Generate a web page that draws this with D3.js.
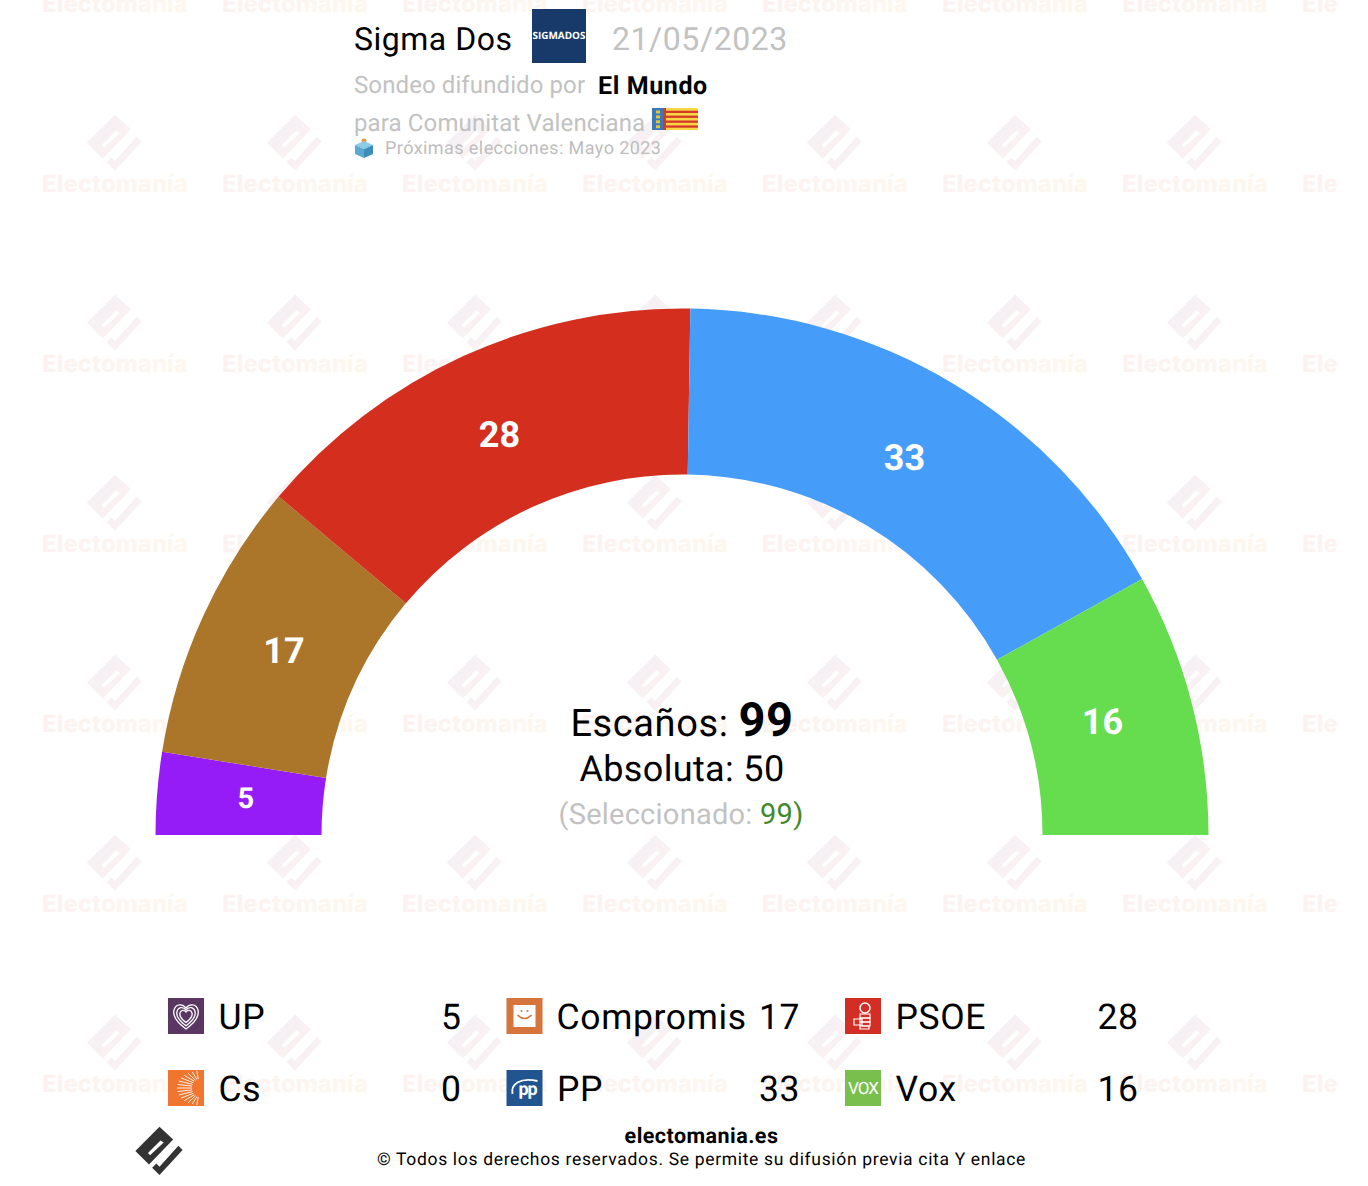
<!DOCTYPE html>
<html><head><meta charset="utf-8">
<script src="https://cdn.jsdelivr.net/npm/d3@7/dist/d3.min.js"></script>
<style>html,body{margin:0;padding:0;background:#fff}svg{display:block}text{font-family:Roboto,sans-serif;text-rendering:geometricPrecision}</style>
</head><body><div id="chart"></div>
<script>
const parties = ["UP","Compromis","PSOE","Cs","PP","Vox"];
const seats = [5,17,28,0,33,16];
const arcColors = ["#951BF7","#AB7629","#D42E1F","#F0752F","#469DF9","#66DD4E"];
const logoColors = ["#5A3763","#D5743B","#D22E26","#F0752F","#20558F","#79BF4D"];
const totalSeats = 99, majority = 50, selected = 99;
const pollster = "Sigma Dos", pollDate = "21/05/2023", media = "El Mundo";
const regionLine = "para Comunitat Valenciana";
const nextElection = "Próximas elecciones: Mayo 2023";

const W = 1368, H = 1186, cx = 682, cy = 835, rO = 526.5, rI = 360.5;
const svg = d3.select("#chart").append("svg").attr("width",W).attr("height",H).attr("viewBox",`0 0 ${W} ${H}`);
const defs = svg.append("defs");
const grad = defs.append("linearGradient").attr("id","wmg").attr("x1","0").attr("x2","1").attr("y1","0").attr("y2","0");
grad.append("stop").attr("offset","0").attr("stop-color","#fcf2f1");
grad.append("stop").attr("offset","1").attr("stop-color","#fef7ee");
const grad2 = defs.append("linearGradient").attr("id","wmi").attr("gradientUnits","objectBoundingBox").attr("x1","0").attr("x2","1").attr("y1","0").attr("y2","1");
grad2.append("stop").attr("offset","0").attr("stop-color","#f3eff8");
grad2.append("stop").attr("offset","1").attr("stop-color","#fdf2ee");
defs.append("clipPath").attr("id","wmclip").append("rect").attr("width",1338).attr("height",H);

// the Electomanía mark: a rotated box with a slot, plus a check-shaped hook
function mark(g, fill){
  g.append("path").attr("fill-rule","evenodd").attr("fill",fill)
   .attr("d","M0,-24 L13,-12 L-10,12 L-23,-1 Z M1,-11 L-11,1 L-9,3 L4,-9 Z");
  g.append("path").attr("fill",fill)
   .attr("d","M18,-6 L22,-2 L0,22 L-7,15 L-3,11 L0,14 Z");
}
const wm = svg.append("g").attr("clip-path","url(#wmclip)");
for(let row=0; row<7; row++) for(let col=0; col<8; col++){
  const g = wm.append("g").attr("transform",`translate(${115+180*col},${-36+180*row})`);
  mark(g.append("g").attr("transform","scale(1.22)"),"url(#wmi)");
  g.append("text").attr("x",0).attr("y",47.5).attr("text-anchor","middle")
   .attr("font-size",23.9).attr("font-weight",800).attr("fill","url(#wmg)").style("font-family","Inter").text("Electomanía");
}

// hemicycle
const pie = d3.pie().sort(null).value(d=>d.v).startAngle(-Math.PI/2).endAngle(Math.PI/2);
const data = parties.map((p,i)=>({p,v:seats[i],c:arcColors[i]}));
const arc = d3.arc().innerRadius(rI).outerRadius(rO);
const labelArc = d3.arc().innerRadius(436).outerRadius(436);
const plot = svg.append("g").attr("transform",`translate(${cx},${cy})`);
const slices = pie(data).filter(d=>d.data.v>0);
plot.selectAll("path").data(slices).join("path").attr("d",arc).attr("fill",d=>d.data.c);
plot.selectAll("text").data(slices).join("text")
  .attr("transform",d=>`translate(${labelArc.centroid(d)})`)
  .attr("text-anchor","middle").attr("dy","0.25em").attr("dx",-1.5).attr("fill","#fff").attr("font-weight",700)
  .attr("font-size",d=>d.data.v<10?29:36).text(d=>d.data.v);

// header
const grey="#c2c2c2";
function T(x,y,size,txt,o={}){
  const t=svg.append("text").attr("x",x).attr("y",y).attr("font-size",size).attr("fill",o.fill||"#000")
    .attr("font-weight",o.w||400).attr("text-anchor",o.a||"start");
  if(o.ls) t.attr("letter-spacing",o.ls);
  return t.text(txt);
}
T(354,50,32,pollster,{ls:0.5});
svg.append("rect").attr("x",532).attr("y",9).attr("width",54).attr("height",54).attr("fill","#183A6B");
T(559,39,10,"SIGMADOS",{fill:"#fff",w:700,a:"middle"}).style("font-family","Open Sans").attr("textLength",53).attr("lengthAdjust","spacingAndGlyphs");
T(612,50,32,pollDate,{fill:grey,ls:0.55});
T(354,93,24,"Sondeo difundido por",{fill:grey,ls:0.1});
T(598,94,25,media,{w:700,ls:0.6});
T(354,131,24,regionLine,{fill:grey,ls:0.13});
// flag
const flag=svg.append("g").attr("transform","translate(652,108)");
flag.append("rect").attr("width",46).attr("height",22).attr("fill","#F8D644");
d3.range(4).forEach(i=>flag.append("rect").attr("y",2.7+i*4.9).attr("width",46).attr("height",2.3).attr("fill","#D23A2A"));
flag.append("rect").attr("width",11).attr("height",22).attr("fill","#3A78B8");
flag.append("rect").attr("x",11).attr("width",3).attr("height",22).attr("fill","#D23A2A");
d3.range(4).forEach(i=>flag.append("rect").attr("x",4).attr("y",2.5+i*4.9).attr("width",4).attr("height",3).attr("fill","#E6C23A"));
// ballot box
const bb=svg.append("g").attr("transform","translate(355,139)");
bb.append("circle").attr("cx",9).attr("cy",2).attr("r",2.5).attr("fill","#E8963A");
bb.append("path").attr("d","M0,6 L9,2 L18,6 L9,10Z").attr("fill","#8CCBE6");
bb.append("path").attr("d","M0,6 L9,10 L9,19 L0,15Z").attr("fill","#5AA9D2");
bb.append("path").attr("d","M18,6 L9,10 L9,19 L18,15Z").attr("fill","#3D8DBA");
T(385,154,18,nextElection,{fill:"#bdbdbd",ls:0.43});

// centre text
const es=T(682,735.5,38,"Escaños: ",{a:"middle",ls:0.6}).attr("xml:space","preserve");
es.append("tspan").attr("font-weight",700).attr("font-size",47).text(totalSeats);
T(682,781,36,`Absoluta: ${majority}`,{a:"middle",ls:0.35});
const se=T(681,824,29,"(Seleccionado: ",{a:"middle",fill:grey,ls:0.25});
se.append("tspan").attr("fill","#3E8A2A").text(selected+")");

// legend
const col = d3.scalePoint().domain([0,1,2]).range([168,845]);
const row = d3.scalePoint().domain([0,1]).range([998,1070]);
parties.forEach((p,i)=>{
  const x=col(i%3), y=row(Math.floor(i/3));
  const g=svg.append("g").attr("transform",`translate(${x},${y})`);
  g.append("rect").attr("width",36).attr("height",36).attr("fill",logoColors[i]);
  drawLogo(g,p);
  T(x+(p==="Compromis"?50:50.5),y+30.5,35.5,p,{ls:0.65});
  T(x+293.5,y+30.5,35.5,seats[i],{a:"end",ls:0.5});
});
function drawLogo(g,p){
  if(p==="UP"){
    const h="M18,31 C7,23 5,16 6,12 C8,5 15,6 18,10 C21,6 28,5 30,12 C31,16 29,23 18,31Z";
    [1,.75,.5].forEach(s=>g.append("path").attr("d",h).attr("fill","none").attr("stroke","#fff").attr("stroke-width",1.3/s).attr("transform",`translate(18,18) scale(${s}) translate(-18,-18)`));
  } else if(p==="Compromis"){
    g.append("rect").attr("x",7).attr("y",7).attr("width",22).attr("height",22).attr("fill","#fff");
    g.append("path").attr("d","M11,17 Q18,24 25,17").attr("fill","none").attr("stroke","#D5743B").attr("stroke-width",1.6);
    g.append("circle").attr("cx",15).attr("cy",13).attr("r",1).attr("fill","#D5743B");
    g.append("circle").attr("cx",21).attr("cy",13).attr("r",1).attr("fill","#D5743B");
  } else if(p==="PSOE"){
    g.append("circle").attr("cx",20).attr("cy",10).attr("r",5).attr("fill","none").attr("stroke","#fff").attr("stroke-width",1.5);
    d3.range(3).forEach(i=>g.append("rect").attr("x",15).attr("y",16+i*4).attr("width",10).attr("height",4).attr("fill","none").attr("stroke","#fff").attr("stroke-width",1.1));
    g.append("path").attr("d","M9,21 H17 V28 H24 V31 H15 V27 H9Z").attr("fill","none").attr("stroke","#fff").attr("stroke-width",1.2);
  } else if(p==="Cs"){
    d3.range(-7,8).forEach(i=>{
      const a=Math.PI+i*0.21;
      g.append("line").attr("x1",31+7*Math.cos(a)).attr("y1",18+9*Math.sin(a))
       .attr("x2",31+22*Math.cos(a)).attr("y2",18+17*Math.sin(a)).attr("stroke","#fff").attr("stroke-width",0.9);
    });
  } else if(p==="PP"){
    g.append("path").attr("d","M6,24 C4,14 14,7 31,11").attr("fill","none").attr("stroke","#fff").attr("stroke-width",1.8);
    g.append("text").attr("x",21).attr("y",25).attr("text-anchor","middle").attr("font-size",18).attr("font-weight",700).attr("fill","#fff").attr("letter-spacing",-1).text("pp");
  } else if(p==="Vox"){
    g.append("text").attr("x",18).attr("y",24).attr("text-anchor","middle").attr("font-size",17).attr("fill","#fff").attr("letter-spacing",-1).text("VOX");
  }
}

// footer
T(701.5,1143,21.5,"electomania.es",{a:"middle",w:700,ls:0.45});
T(701.5,1165,17.5,"© Todos los derechos reservados. Se permite su difusión previa cita Y enlace",{a:"middle",ls:0.67});
const fm=svg.append("g").attr("transform","translate(159.5,1152) scale(1.05)");
mark(fm,"#333");
</script></body></html>
